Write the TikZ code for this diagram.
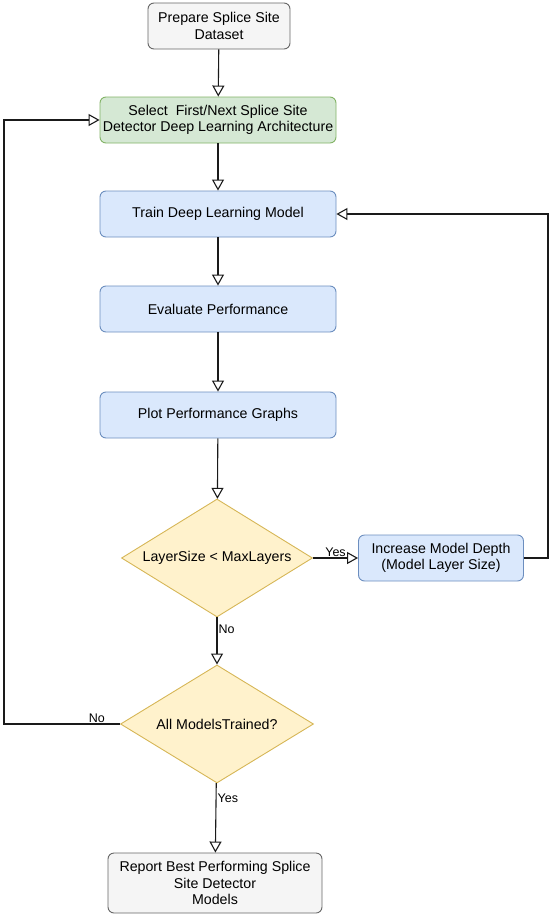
\documentclass[tikz,border=0pt]{standalone}
\usepackage{fontspec}
\setmainfont{Liberation Sans}
\usetikzlibrary{shapes.geometric,arrows.meta}
\definecolor{grayfill}{HTML}{F5F5F5}
\definecolor{graydraw}{HTML}{666666}
\definecolor{greenfill}{HTML}{D5E8D4}
\definecolor{greendraw}{HTML}{82B366}
\definecolor{bluefill}{HTML}{DAE8FC}
\definecolor{bluedraw}{HTML}{6C8EBF}
\definecolor{yelfill}{HTML}{FFF2CC}
\definecolor{yeldraw}{HTML}{D6B656}
\definecolor{linec}{HTML}{1A1A1A}
\tikzset{
  box/.style={rectangle, rounded corners=6pt, line width=0.9pt, align=center, inner sep=0pt, font=\fontsize{14.2}{16.5}\selectfont},
  graybox/.style={box, fill=grayfill, draw=graydraw},
  greenbox/.style={box, fill=greenfill, draw=greendraw},
  bluebox/.style={box, fill=bluefill, draw=bluedraw},
  decision/.style={diamond, shape aspect=1.62, fill=yelfill, draw=yeldraw, line width=0.9pt, inner sep=0pt, align=center, font=\fontsize{14.2}{16.5}\selectfont},
  conn/.style={draw=linec, line width=1.1pt, -{Triangle[open, width=12pt, length=11pt]}},
  lbl/.style={font=\fontsize{12.5}{15}\selectfont, inner sep=1pt}
}
\begin{document}
\begin{tikzpicture}[x=1pt,y=-1pt]
\useasboundingbox (0,0) rectangle (550,916);
\node[graybox, minimum width=142pt, minimum height=46pt] (prep) at (219,26) {Prepare Splice Site\\Dataset};
\node[greenbox, minimum width=236pt, minimum height=46pt] (sel) at (218,120) {Select\ \ First/Next Splice Site\\Detector Deep Learning Architecture};
\node[bluebox, minimum width=236pt, minimum height=46pt] (train) at (218,214) {Train Deep Learning Model};
\node[bluebox, minimum width=236pt, minimum height=46pt] (eval) at (218,309) {Evaluate Performance};
\node[bluebox, minimum width=236pt, minimum height=46pt] (plot) at (218,415) {Plot Performance Graphs};
\node[decision, minimum width=191pt, minimum height=118pt] (d1) at (217,558) {LayerSize < MaxLayers};
\node[bluebox, minimum width=165pt, minimum height=46pt] (inc) at (441,558) {Increase Model Depth\\(Model Layer Size)};
\node[decision, minimum width=193pt, minimum height=118pt] (d2) at (217,724) {All ModelsTrained?};
\node[graybox, minimum width=214pt, minimum height=60pt] (rep) at (215,883) {Report Best Performing Splice\\Site Detector\\Models};
\coordinate (lc1) at (4,724);
\coordinate (lc2) at (4,120);
\coordinate (rc1) at (548,558);
\coordinate (rc2) at (548,214);
\draw[conn] (prep) -- (sel);
\draw[conn] (sel) -- (train);
\draw[conn] (train) -- (eval);
\draw[conn] (eval) -- (plot);
\draw[conn] (plot) -- (d1);
\draw[conn] (d1) -- node[lbl, above, pos=0.5] (yes1) {Yes} (inc);
\draw[conn] (d1) -- node[lbl, right, pos=0.25] (no1) {No} (d2);
\draw[conn] (d2) -- node[lbl, right, pos=0.22] (yes2) {Yes} (rep);
\draw[conn] (d2.west) -- node[lbl, above, pos=0.2] (no2) {No} (lc1) -- (lc2) -- (sel.west);
\draw[conn] (inc.east) -- (rc1) -- (rc2) -- (train.east);
\end{tikzpicture}
\end{document}
